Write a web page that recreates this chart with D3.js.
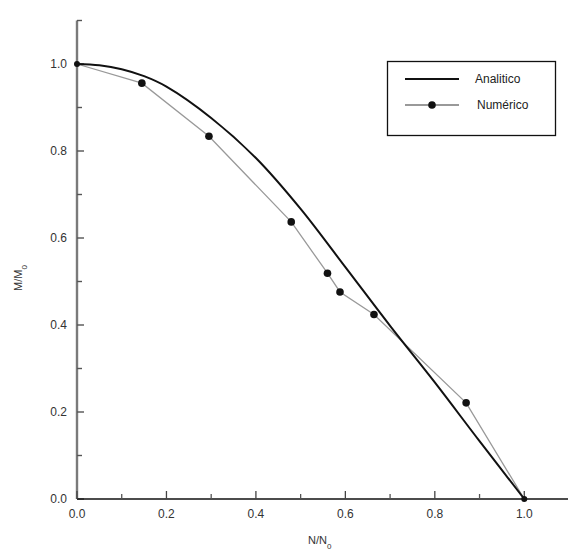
<!DOCTYPE html>
<html><head><meta charset="utf-8">
<script src="https://cdn.jsdelivr.net/npm/d3@7"></script>
<style>body{margin:0;background:#fff}svg{display:block}text{font-family:Arial,"Liberation Sans",sans-serif}</style>
</head><body>
<svg id="c" width="568" height="552"></svg>
<script>
// Analytic curve (N/N0, M/M0)
const analyticX = [0.0, 0.05, 0.1, 0.15, 0.2, 0.3, 0.4, 0.5, 0.6, 0.7, 0.8, 0.9, 1.0];
const analyticY = [1.0, 0.997, 0.988, 0.972, 0.948, 0.876, 0.784, 0.667, 0.533, 0.398, 0.268, 0.133, 0.0];
// Numeric points
const numericX = [0.0, 0.145, 0.295, 0.479, 0.56, 0.588, 0.664, 0.87, 1.0];
const numericY = [1.0, 0.956, 0.834, 0.637, 0.519, 0.476, 0.424, 0.221, 0.0];
const majorTicks = [0.0, 0.2, 0.4, 0.6, 0.8, 1.0];
const minorTicks = [0.1, 0.3, 0.5, 0.7, 0.9, 1.1];
const seriesNames = ["Analitico", "Numérico"];

const svg = d3.select("#c");
const x = d3.scaleLinear().domain([0, 1.1]).range([77, 569]);
const y = d3.scaleLinear().domain([0, 1.1]).range([499, 20.5]);
const fmt = d3.format(".1f");

// y axis (gray)
svg.append("rect").attr("x", x(0) - 1.2).attr("y", y(1.1)).attr("width", 2.4).attr("height", y(0) - y(1.1))
  .attr("fill", "#7a7a7a");
const gy = svg.append("g");
gy.selectAll(".mj").data(majorTicks).join("rect").attr("class", "mj")
  .attr("x", x(0)).attr("y", d => y(d) - 0.7).attr("width", 7).attr("height", 1.4).attr("fill", "#555");
gy.selectAll(".mn").data(minorTicks).join("rect").attr("class", "mn")
  .attr("x", x(0)).attr("y", d => y(d) - 0.7).attr("width", 5).attr("height", 1.4).attr("fill", "#555");
gy.selectAll("text").data(majorTicks).join("text").attr("x", x(0) - 10).attr("y", d => y(d) + 4)
  .attr("text-anchor", "end").attr("font-size", 12).attr("fill", "#333").text(fmt);

// x axis (black)
const gx = svg.append("g").attr("transform", `translate(0,${y(0)})`);
gx.append("path").attr("d", d3.line()([[x(0), 0], [568, 0]])).attr("stroke", "#111").attr("stroke-width", 1.6);
gx.selectAll(".mj").data(majorTicks).join("line").attr("class", "mj").attr("x1", d => x(d)).attr("x2", d => x(d)).attr("y1", 0).attr("y2", -8).attr("stroke", "#444").attr("stroke-width", 1.3);
gx.selectAll(".mn").data(minorTicks).join("line").attr("class", "mn").attr("x1", d => x(d)).attr("x2", d => x(d)).attr("y1", 0).attr("y2", -5).attr("stroke", "#555").attr("stroke-width", 1.3);
gx.selectAll("text").data(majorTicks).join("text").attr("x", d => x(d)).attr("y", 19).attr("text-anchor", "middle").attr("font-size", 12).attr("fill", "#333").text(fmt);

// axis titles
const xt = svg.append("text").attr("x", 308).attr("y", 544).attr("font-size", 11).attr("fill", "#333");
xt.append("tspan").text("N/N");
xt.append("tspan").attr("dy", 5).attr("font-size", 8).text("0");
const yt = svg.append("text").attr("transform", "translate(22,291) rotate(-90)").attr("font-size", 11).attr("fill", "#333");
yt.append("tspan").text("M/M");
yt.append("tspan").attr("dy", 5).attr("font-size", 8).text("0");

// numeric series
const numData = numericX.map((d, i) => [d, numericY[i]]);
svg.append("path").datum(numData).attr("fill", "none").attr("stroke", "#999").attr("stroke-width", 1.3)
  .attr("d", d3.line().x(d => x(d[0])).y(d => y(d[1])));

// analytic series
const anData = analyticX.map((d, i) => [d, analyticY[i]]);
svg.append("path").datum(anData).attr("fill", "none").attr("stroke", "#111").attr("stroke-width", 2)
  .attr("d", d3.line().curve(d3.curveCatmullRom.alpha(0.5)).x(d => x(d[0])).y(d => y(d[1])));

svg.selectAll(".pt").data(numData).join("circle").attr("class", "pt").attr("cx", d => x(d[0])).attr("cy", d => y(d[1])).attr("r", (d, i) => (i === 0 || i === numData.length - 1) ? 3 : 3.8).attr("fill", "#111");

// legend
const lg = svg.append("g");
lg.append("rect").attr("x", 387.5).attr("y", 61.5).attr("width", 168).attr("height", 74).attr("fill", "#fff").attr("stroke", "#111").attr("stroke-width", 1.3);
lg.append("line").attr("x1", 405).attr("x2", 459).attr("y1", 79).attr("y2", 79).attr("stroke", "#111").attr("stroke-width", 2);
lg.append("line").attr("x1", 405).attr("x2", 459).attr("y1", 105).attr("y2", 105).attr("stroke", "#777").attr("stroke-width", 1.3);
lg.append("circle").attr("cx", 432).attr("cy", 105).attr("r", 3.8).attr("fill", "#111");
lg.selectAll("text").data(seriesNames).join("text").attr("x", (d, i) => i ? 477 : 475).attr("y", (d, i) => i ? 109 : 83).attr("font-size", 12).attr("fill", "#222").text(d => d);
</script>
</body></html>
